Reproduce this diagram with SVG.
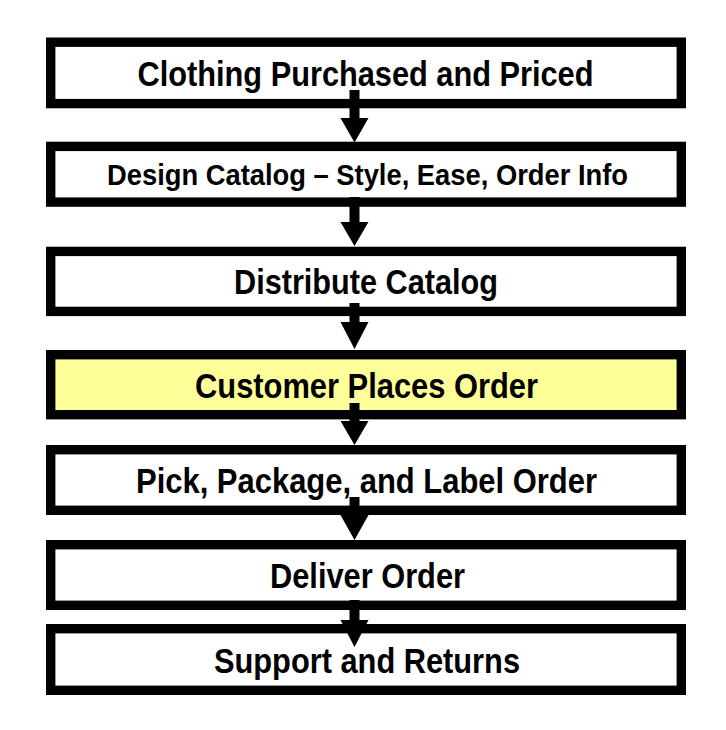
<svg xmlns="http://www.w3.org/2000/svg" width="726" height="730" viewBox="0 0 726 730">
<style>
.box{fill:#ffffff;stroke:#000000;stroke-width:9.4}
.hl{fill:#ffff99}
.lbl{font-family:"Liberation Sans",Arial,sans-serif;font-weight:bold;font-size:35.5px;fill:#000000;text-anchor:middle}
.sm{font-size:29px}
.arr{fill:#000000;stroke:none}
</style>
<rect width="726" height="730" fill="#ffffff"/>
<g id="node1">
<rect class="box" x="50.7" y="42.2" width="630.6" height="61.4"/>
<text class="lbl" x="365.5" y="86" textLength="456" lengthAdjust="spacingAndGlyphs">Clothing Purchased and Priced</text>
</g>
<g id="node2">
<rect class="box" x="50.7" y="146.4" width="630.6" height="55.7"/>
<text class="lbl sm" x="367.5" y="185" textLength="521" lengthAdjust="spacingAndGlyphs">Design Catalog – Style, Ease, Order Info</text>
</g>
<g id="node3">
<rect class="box" x="50.7" y="251.4" width="630.6" height="60"/>
<text class="lbl" x="366" y="294" textLength="264" lengthAdjust="spacingAndGlyphs">Distribute Catalog</text>
</g>
<g id="node4">
<rect class="box hl" x="50.7" y="354.7" width="630.6" height="60"/>
<text class="lbl" x="366.5" y="398" textLength="343" lengthAdjust="spacingAndGlyphs">Customer Places Order</text>
</g>
<g id="node5">
<rect class="box" x="50.7" y="449.7" width="630.6" height="60.6"/>
<text class="lbl" x="366.5" y="493" textLength="461" lengthAdjust="spacingAndGlyphs">Pick, Package, and Label Order</text>
</g>
<g id="node6">
<rect class="box" x="50.7" y="544.7" width="630.6" height="60.6"/>
<text class="lbl" x="367.5" y="588" textLength="195" lengthAdjust="spacingAndGlyphs">Deliver Order</text>
</g>
<g id="node7">
<rect class="box" x="50.7" y="628.7" width="630.6" height="61.6"/>
<text class="lbl" x="367" y="673" textLength="306" lengthAdjust="spacingAndGlyphs">Support and Returns</text>
</g>
<g id="connectors">
<polygon class="arr" points="349.5,90 359.5,90 359.5,118 368.5,118 354.5,142.5 340.5,118 349.5,118"/>
<polygon class="arr" points="349.5,197 359.5,197 359.5,222 368.5,222 354.5,246 340.5,222 349.5,222"/>
<polygon class="arr" points="349.5,303 359.5,303 359.5,322 368.5,322 354.5,349 340.5,322 349.5,322"/>
<polygon class="arr" points="349.5,403 359.5,403 359.5,421 368.5,421 354.5,445 340.5,421 349.5,421"/>
<polygon class="arr" points="349.5,497 359.5,497 359.5,515 368.5,515 354.5,540 340.5,515 349.5,515"/>
<polygon class="arr" points="349.5,600 359.5,600 359.5,620 368.5,620 354.5,647 340.5,620 349.5,620"/>
</g>
</svg>
